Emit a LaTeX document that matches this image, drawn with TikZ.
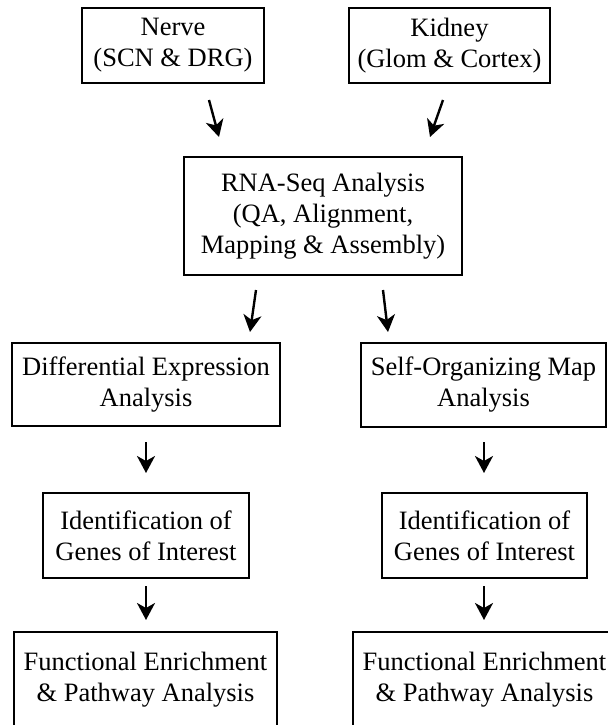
\documentclass[tikz,border=0pt]{standalone}
\usepackage{fontspec}
\setmainfont{Liberation Serif}
\usepackage{tikz}
\usetikzlibrary{arrows.meta}
\usetikzlibrary{positioning}
\tikzstyle{stage}=[draw,line width=1.2pt,inner sep=0pt,align=center,font=\fontsize{13.25}{15.5}\selectfont]
\tikzstyle{flow}=[line width=1.2pt,-{Stealth[length=8.5pt,width=9pt,inset=2.5pt]}]

\begin{document}
\begin{tikzpicture}[x=0.5pt,y=-0.5pt]
\useasboundingbox (0,0) rectangle (608,725);
\node [stage,minimum width=91pt,minimum height=37.5pt] (nerve) at (173,45.5) {Nerve\\(SCN \& DRG)};
\node [stage,minimum width=100.5pt,minimum height=37.5pt] (kidney) at (449.5,45.5) {Kidney\\(Glom \& Cortex)};
\node [stage,minimum width=139pt,minimum height=59pt] (rna) at (323,216) {RNA-Seq Analysis\\(QA, Alignment,\\Mapping \& Assembly)};
\node [stage,minimum width=134pt,minimum height=41.5pt] (diff) at (146,384.5) {Differential Expression\\Analysis};
\node [stage,minimum width=122.5pt,minimum height=42pt] (som) at (483.5,385) {Self-Organizing Map\\Analysis};
\node [stage,minimum width=103pt,minimum height=42.5pt] (identL) at (146,535.5) {Identification of\\Genes of Interest};
\node [stage,minimum width=102.5pt,minimum height=42.5pt] (identR) at (484.5,535.5) {Identification of\\Genes of Interest};
\node [stage,minimum width=131.5pt,minimum height=48pt] (funcL) at (145.5,680) {Functional Enrichment\\\& Pathway Analysis};
\node [stage,minimum width=131.5pt,minimum height=48pt] (funcR) at (484.5,680) {Functional Enrichment\\\& Pathway Analysis};

\coordinate (n1) at (209,100);
\coordinate (n2) at (219,137);
\coordinate (k1) at (443,100);
\coordinate (k2) at (430,137);
\coordinate (r1) at (256,290);
\coordinate (r2) at (250,332);
\coordinate (r3) at (383,290);
\coordinate (r4) at (388,332);
\coordinate (d1) at (146,442);
\coordinate (d2) at (146,473);
\coordinate (s1) at (484,442);
\coordinate (s2) at (484,473);
\coordinate (i1) at (146,586);
\coordinate (i2) at (146,620);
\coordinate (j1) at (484,586);
\coordinate (j2) at (484,620);

\draw [flow] (n1) -- (n2);
\draw [flow] (k1) -- (k2);
\draw [flow] (r1) -- (r2);
\draw [flow] (r3) -- (r4);
\draw [flow] (d1) -- (d2);
\draw [flow] (s1) -- (s2);
\draw [flow] (i1) -- (i2);
\draw [flow] (j1) -- (j2);
\end{tikzpicture}
\end{document}
